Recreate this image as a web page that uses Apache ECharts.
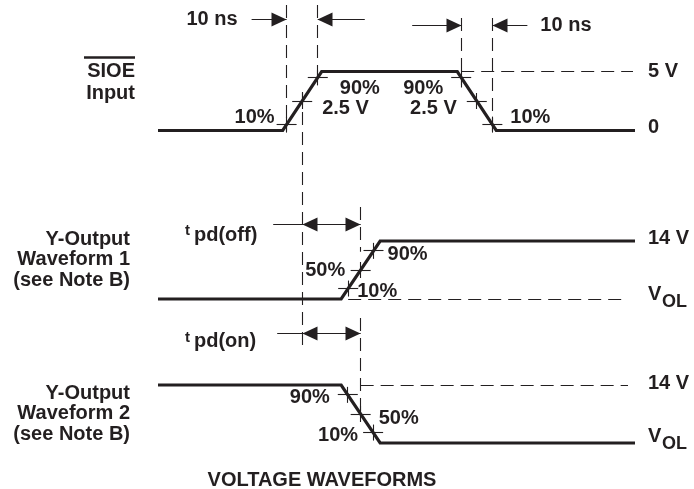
<!DOCTYPE html>
<html>
<head>
<meta charset="utf-8">
<script src="https://cdn.jsdelivr.net/npm/echarts@6/dist/echarts.min.js"></script>
<style>
html, body { margin: 0; background: #fff; }
#chart { width: 694px; height: 489px; }
</style>
</head>
<body>
<div id="chart"></div>
<script>
// time in ns, level in volts (VOL drawn as 0)
var sioeTime = [0, 40, 52.5, 96, 108.5, 153];
var sioeVolts = [0, 0, 5, 5, 0, 0];
var out1Time = [0, 58.75, 71.25, 153];
var out1Volts = [0, 0, 14, 14];
var out2Time = [0, 58.75, 71.25, 153];
var out2Volts = [14, 14, 0, 0];
// reference levels marked on the edges (fraction of swing)
var sioeMarks = [0.1, 0.5, 0.9];
var outMarks = [0.18, 0.5, 0.83];
var pctLabels = ['10%', '50%', '90%'];
var levelLabels = ['5 V', '0', '14 V', 'V', 'OL'];

var ink = '#231f20';
var font = '"Liberation Sans", Arial, sans-serif';

function pairs(ts, vs) {
    return ts.map(function (t, i) {
        return [t, vs[i]];
    });
}

function wave(idx, data) {
    return {
        type: 'line',
        xAxisIndex: idx,
        yAxisIndex: idx,
        data: data,
        symbol: 'none',
        silent: true,
        clip: false,
        lineStyle: {color: ink, width: 3.2, cap: 'butt', join: 'miter'}
    };
}

var grids = [
    {left: 158, width: 477, top: 71.5, height: 59},
    {left: 158, width: 477, top: 241, height: 58},
    {left: 158, width: 477, top: 385, height: 58}
];
var maxV = [5, 14, 14];

var option = {
    animation: false,
    backgroundColor: '#fff',
    grid: grids,
    xAxis: grids.map(function (g, i) {
        return {type: 'value', gridIndex: i, min: 0, max: 153, show: false};
    }),
    yAxis: grids.map(function (g, i) {
        return {type: 'value', gridIndex: i, min: 0, max: maxV[i], show: false};
    }),
    series: [
        wave(0, pairs(sioeTime, sioeVolts)),
        wave(1, pairs(out1Time, out1Volts)),
        wave(2, pairs(out2Time, out2Volts))
    ]
};

var chart = echarts.init(document.getElementById('chart'));
chart.setOption(option);

function P(g, t, v) {
    return chart.convertToPixel({gridIndex: g}, [t, v]);
}

// point on an edge at fraction f of the swing
function edgePoint(g, ts, vs, i, f) {
    var t0 = ts[i], t1 = ts[i + 1], v0 = vs[i], v1 = vs[i + 1];
    var lvl = Math.min(v0, v1) + f * Math.abs(v1 - v0);
    var k = (lvl - v0) / (v1 - v0);
    return P(g, t0 + k * (t1 - t0), lvl);
}

function snap(v) {
    return Math.round(v - 0.5) + 0.5;
}

var els = [];
function seg(x1, y1, x2, y2, dashed, w) {
    if (x1 === x2) { x1 = x2 = snap(x1); }
    if (y1 === y2) { y1 = y2 = snap(y1); }
    els.push({
        type: 'line', silent: true,
        shape: {x1: x1, y1: y1, x2: x2, y2: y2},
        style: {stroke: ink, lineWidth: w || 1.1, lineDash: dashed ? [13, 7] : null}
    });
}
function head(x, y, dir) {
    x = snap(x);
    y = snap(y);
    els.push({
        type: 'polygon', silent: true,
        shape: {points: [[x, y], [x - dir * 15, y - 7], [x - dir * 15, y + 7]]},
        style: {fill: ink}
    });
}
function txt(s, x, y, align, size) {
    els.push({
        type: 'text', silent: true,
        style: {
            text: s, x: x, y: y, align: align || 'left', verticalAlign: 'middle',
            font: 'bold ' + (size || 20) + 'px ' + font, fill: ink
        }
    });
}
function cross(p) {
    seg(p[0] - 10, p[1], p[0] + 10, p[1]);
    seg(p[0], p[1] - 8, p[0], p[1] + 8);
}

// ---- SIOE input ----
var r = sioeMarks.map(function (f) { return edgePoint(0, sioeTime, sioeVolts, 1, f); });
var f = sioeMarks.map(function (m) { return edgePoint(0, sioeTime, sioeVolts, 3, m); });
var s5 = P(0, 153, 5), s0 = P(0, 153, 0);
r.forEach(cross);
f.forEach(cross);
seg(r[0][0], 5, r[0][0], r[0][1] + 6, true);
seg(r[2][0], 5, r[2][0], r[2][1] + 6, true);
seg(r[1][0], r[1][1] - 9, r[1][0], 345, true);
seg(f[2][0], 18, f[2][0], f[2][1] + 10, true);
seg(f[0][0], 18, f[0][0], f[0][1] + 8, true);
seg(f[2][0], s5[1], s5[0] - 2, s5[1], true);

var yTop1 = s5[1] - 52, yTop2 = s5[1] - 46;
seg(r[0][0] - 35, yTop1, r[0][0], yTop1);
head(r[0][0], yTop1, 1);
seg(r[2][0], yTop1, r[2][0] + 47, yTop1);
head(r[2][0], yTop1, -1);
txt('10 ns', r[0][0] - 49, yTop1, 'right');
seg(f[2][0] - 49, yTop2, f[2][0], yTop2);
head(f[2][0], yTop2, 1);
seg(f[0][0], yTop2, f[0][0] + 35, yTop2);
head(f[0][0], yTop2, -1);
txt('10 ns', f[0][0] + 48, yTop2, 'left');

txt(pctLabels[0], r[0][0] - 12, r[0][1] - 7, 'right');
txt(pctLabels[2], r[2][0] + 22, r[2][1] + 11, 'left');
txt('2.5 V', r[1][0] + 20, r[1][1] + 7, 'left');
txt(pctLabels[2], f[2][0] - 18, f[2][1] + 11, 'right');
txt('2.5 V', f[1][0] - 20, f[1][1] + 7, 'right');
txt(pctLabels[0], f[0][0] + 18, f[0][1] - 7, 'left');
txt(levelLabels[0], s5[0] + 13, s5[1], 'left');
txt(levelLabels[1], s0[0] + 13, s0[1] - 3, 'left');

txt('SIOE', 135, s5[1], 'right');
seg(84, s5[1] - 14, 135, s5[1] - 14, false, 2.5);
txt('Input', 135, s5[1] + 22, 'right');

// ---- Y-Output waveform 1 ----
var a = outMarks.map(function (m) { return edgePoint(1, out1Time, out1Volts, 1, m); });
var hi1 = P(1, 153, 14), lo1 = P(1, 153, 0);
a.forEach(cross);
seg(a[1][0], hi1[1] - 34, a[1][0], a[2][1] + 1, true);
seg(a[0][0], lo1[1], lo1[0] - 7, lo1[1], true);
var yOff = hi1[1] - 17;
seg(r[1][0] - 29, yOff, a[1][0], yOff);
head(r[1][0], yOff, -1);
head(a[1][0], yOff, 1);
txt('t', 185, yOff + 7, 'left', 15);
txt('pd(off)', 194, yOff + 11, 'left');
txt(pctLabels[1], r[1][0] + 3, a[1][1], 'left');
txt(pctLabels[2], a[2][0] + 14, a[2][1] + 4, 'left');
txt(pctLabels[0], a[0][0] + 9, a[0][1] + 3, 'left');
txt(levelLabels[2], hi1[0] + 13, hi1[1] - 3, 'left');
txt(levelLabels[3], lo1[0] + 13, lo1[1] - 5, 'left');
txt(levelLabels[4], lo1[0] + 27, lo1[1] + 3, 'left', 18);
txt('Y-Output', 130, hi1[1] - 2, 'right');
txt('Waveform 1', 130, hi1[1] + 18.5, 'right');
txt('(see Note B)', 130, hi1[1] + 39.5, 'right');

// ---- Y-Output waveform 2 ----
var b = outMarks.map(function (m) { return edgePoint(2, out2Time, out2Volts, 1, m); });
var hi2 = P(2, 153, 14), lo2 = P(2, 153, 0);
b.forEach(cross);
seg(b[1][0], hi2[1] - 67, b[1][0], b[1][1] + 4, true);
seg(b[1][0], hi2[1], hi2[0] - 7, hi2[1], true);
var yOn = hi2[1] - 52;
seg(r[1][0] - 25, yOn, b[1][0], yOn);
head(r[1][0], yOn, -1);
head(b[1][0], yOn, 1);
txt('t', 185, yOn + 5, 'left', 15);
txt('pd(on)', 194, yOn + 8, 'left');
txt(pctLabels[2], b[2][0] - 18, b[2][1] + 3, 'right');
txt(pctLabels[1], b[1][0] + 18, b[1][1] + 4, 'left');
txt(pctLabels[0], b[0][0] - 15, b[0][1] + 3, 'right');
txt(levelLabels[2], hi2[0] + 13, hi2[1] - 2, 'left');
txt(levelLabels[3], lo2[0] + 13, lo2[1] - 7, 'left');
txt(levelLabels[4], lo2[0] + 27, lo2[1] + 1, 'left', 18);
txt('Y-Output', 130, hi2[1] + 8, 'right');
txt('Waveform 2', 130, hi2[1] + 28.5, 'right');
txt('(see Note B)', 130, hi2[1] + 49.5, 'right');

txt('VOLTAGE WAVEFORMS', 322, 480, 'center');

chart.setOption({graphic: els});
</script>
</body>
</html>
